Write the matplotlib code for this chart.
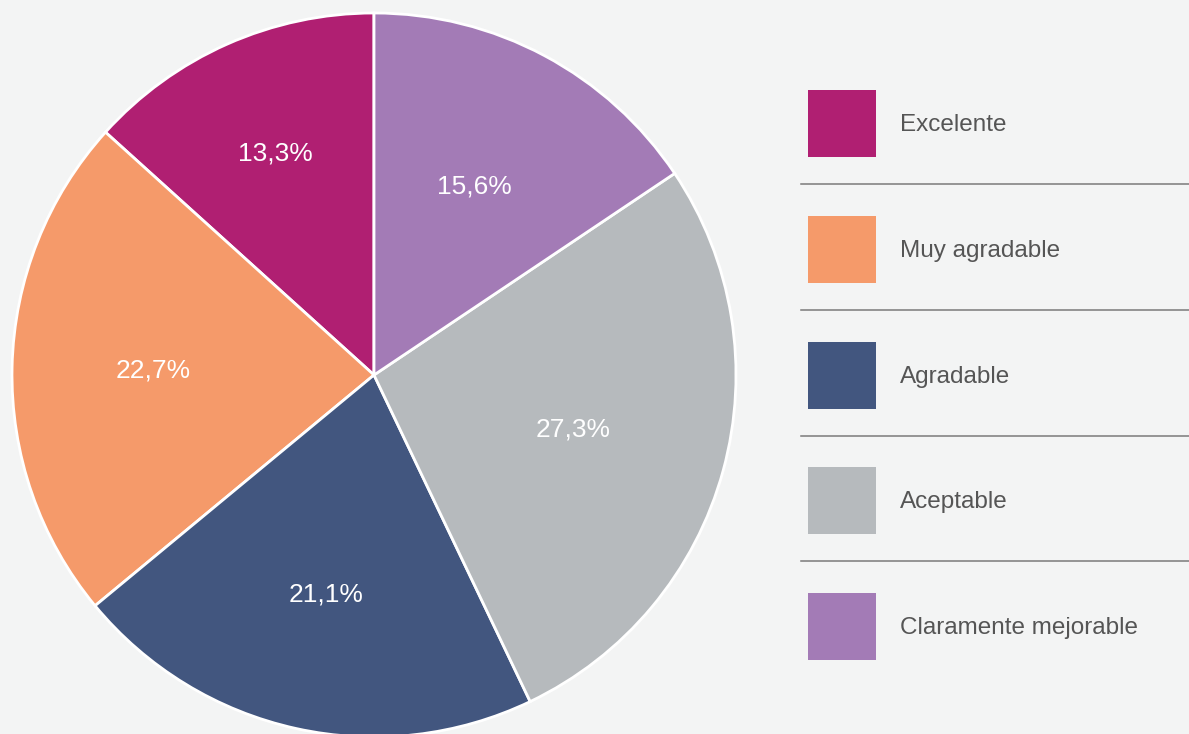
import numpy as np
import matplotlib.pyplot as plt
from matplotlib.patches import Rectangle

labels = ["Excelente", "Muy agradable", "Agradable", "Aceptable", "Claramente mejorable"]
values = [13.3, 22.7, 21.1, 27.3, 15.6]
colors = ["#B01F72", "#F59A6A", "#42567F", "#B6BABD", "#A37BB6"]
label_dist = [0.67, 0.61, 0.62, 0.57, 0.59]  # radial spot of each % label

plt.rcParams["font.family"] = ["Liberation Sans", "DejaVu Sans"]

W, H = 1189, 734
bg = "#F3F4F4"
fig = plt.figure(figsize=(W / 100, H / 100), dpi=100, facecolor=bg)

# legend layer in pixel coords
lg = fig.add_axes([0, 0, 1, 1])
lg.set_xlim(0, W)
lg.set_ylim(H, 0)
lg.axis("off")
step = 125.8
for i, (lab, col) in enumerate(zip(labels, colors)):
    y0 = 90 + i * step
    lg.add_patch(Rectangle((808, y0), 68, 67, facecolor=col, edgecolor="none"))
    lg.text(900, y0 + 35, lab, fontsize=17.5, color="#555555", va="center", ha="left")
    if i < len(labels) - 1:
        ly = y0 + 94
        lg.plot([801, W], [ly, ly], color="#7a7a7a", lw=1.1)

# pie: centre (374, 375) px, radius 362 px
cx, cy, r = 374, 375, 362
ax = fig.add_axes([(cx - r) / W, (H - cy - r) / H, 2 * r / W, 2 * r / H])
wedges, texts, autotexts = ax.pie(
    values, colors=colors, startangle=90, counterclock=True,
    autopct=lambda p: f"{p:.1f}".replace(".", ",") + "%", pctdistance=0.6,
    wedgeprops=dict(edgecolor="white", linewidth=2), radius=1,
)
for w, t, d in zip(wedges, autotexts, label_dist):
    ang = np.deg2rad((w.theta1 + w.theta2) / 2)
    t.set_position((d * np.cos(ang), d * np.sin(ang)))
    t.set_color("white")
    t.set_fontsize(19)
ax.set_xlim(-1, 1)
ax.set_ylim(-1, 1)
ax.axis("off")

fig.savefig("out.png", dpi=100, facecolor=bg)
